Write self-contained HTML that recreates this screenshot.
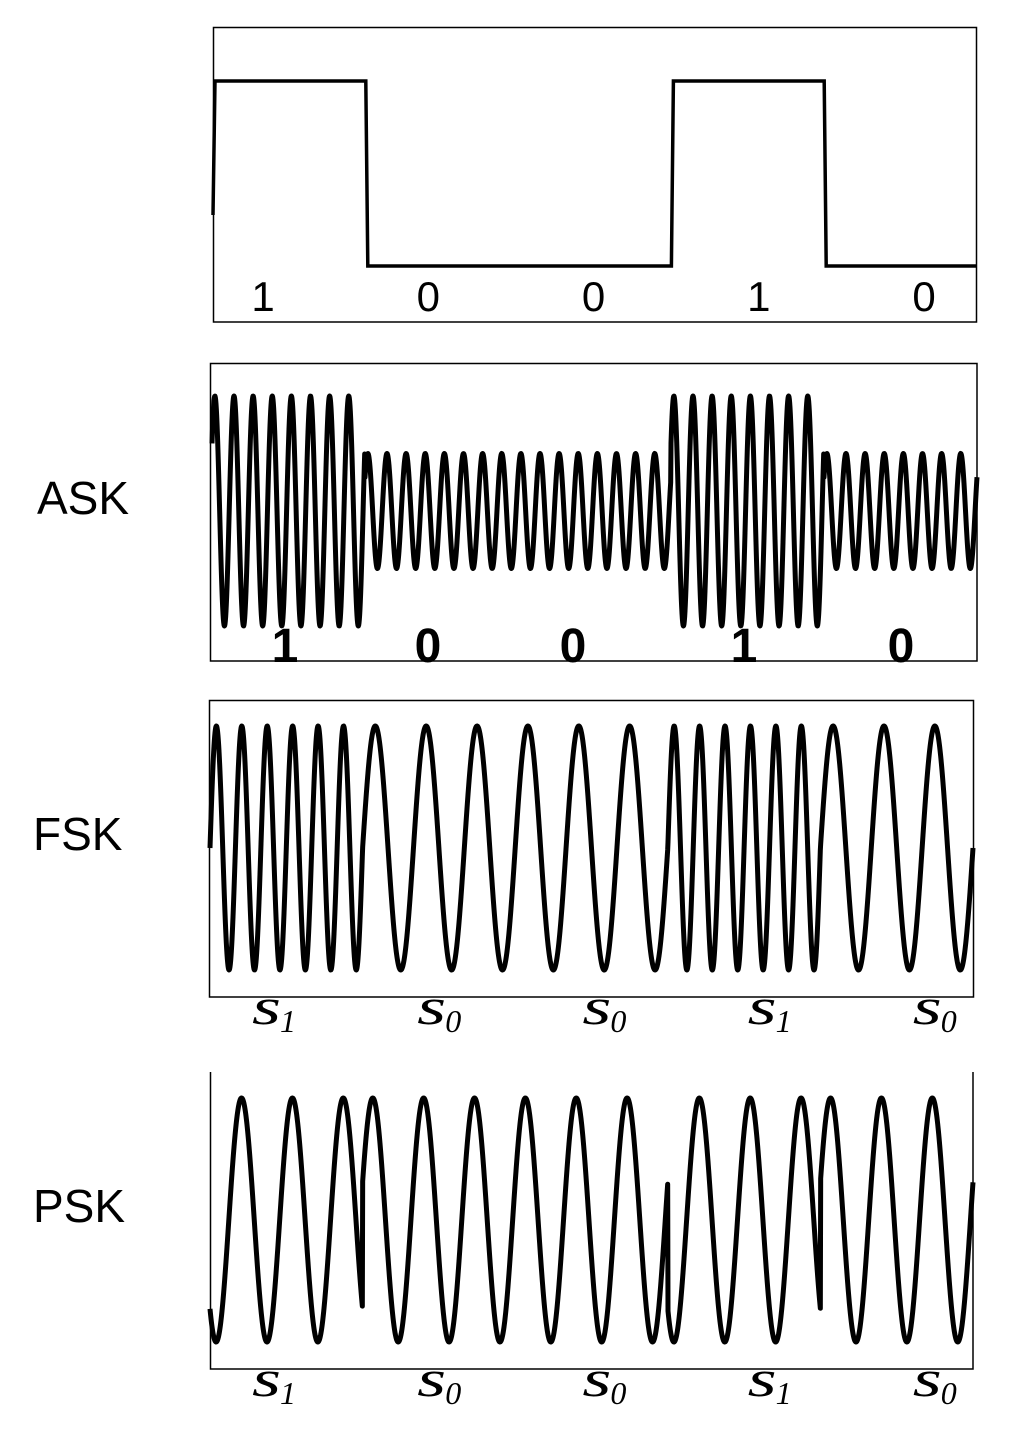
<!DOCTYPE html>
<html><head><meta charset="utf-8"><style>
html,body{margin:0;padding:0;background:#fff;}
svg{display:block;}
.lab{font-family:"Liberation Sans",sans-serif;font-size:46px;fill:#000;}
.bitd{font-family:"Liberation Sans",sans-serif;font-size:42px;fill:#000;}
.bitb{font-family:"Liberation Sans",sans-serif;font-size:48px;font-weight:bold;fill:#000;}
.sym{font-family:"Liberation Serif",serif;font-style:italic;font-size:52px;fill:#000;}
.sub{font-family:"Liberation Serif",serif;font-style:italic;font-size:32px;fill:#000;}
</style></head><body>
<svg id="chart" width="1034" height="1432" viewBox="0 0 1034 1432" xmlns="http://www.w3.org/2000/svg">
<rect x="213.5" y="27.5" width="763" height="294.5" fill="none" stroke="#000" stroke-width="1.5"/>
<rect x="210.5" y="363.5" width="766.5" height="297.5" fill="none" stroke="#000" stroke-width="1.5"/>
<rect x="209.5" y="700.5" width="764" height="296.5" fill="none" stroke="#000" stroke-width="1.5"/>
<path d="M210.5 1072 V1369 H973 V1072" fill="none" stroke="#000" stroke-width="1.5"/>
<text x="37" y="514" class="lab">ASK</text>
<text x="33" y="850" class="lab">FSK</text>
<text x="33" y="1222" class="lab">PSK</text>
<g id="g"></g>
</svg>
<script>
const bits = [1, 0, 0, 1, 0];
const askAmp = [0.5, 1.0];      // amplitude for bit 0, bit 1
const askCycles = 8;            // cycles per bit
const fskCycles = [3, 6];       // cycles per bit for bit 0, bit 1
const pskCycles = 3;
const pskPhase = [0.05, 0.63];  // phase (cycles) for bit 0, bit 1
const askPhase = 0.1;

const NS = 'http://www.w3.org/2000/svg';
const g = document.getElementById('g');
function mk(tag, attrs) { const e = document.createElementNS(NS, tag); for (const k in attrs) e.setAttribute(k, attrs[k]); g.appendChild(e); return e; }

function xs(x0, x1) { return t => x0 + (x1 - x0) * t / bits.length; }
// label placement: labels are spaced evenly across the frame (not bit-centred)
function lx(x0, step) { return i => x0 + step * i; }

// Digital panel
{
  const X = xs(213, 977), yHi = 81, yLo = 266;
  let d = 'M' + X(0) + ' 215';
  bits.forEach((b, i) => {
    const y = b ? yHi : yLo;
    d += ' L' + (X(i) + 2) + ' ' + y + ' L' + X(i + 1) + ' ' + y;
  });
  const p = mk('path', { d: d, fill: 'none', stroke: '#000', 'stroke-width': 3.5 });
  
  
  const L = lx(263, 165.25);
  bits.forEach((b, i) => {
    const t = mk('text', { x: L(i), y: 311, class: 'bitd', 'text-anchor': 'middle' });
    t.textContent = b;
    
    
  });
}

function wave(x0, x1, mid, amp, fn, name) {
  const X = xs(x0, x1);
  let d = '';
  const N = Math.round((x1 - x0) * 3);
  for (let k = 0; k <= N; k++) {
    const t = bits.length * k / N;
    const v = fn(Math.min(t, bits.length - 1e-9));
    d += (k ? ' L' : 'M') + X(t).toFixed(2) + ' ' + (mid - amp * v).toFixed(2);
  }
  const p = mk('path', { d: d, fill: 'none', stroke: '#000', 'stroke-width': 5, 'stroke-linejoin': 'round' });
  
  
}

// ASK
wave(212, 977, 511, 115, t => {
  const b = bits[Math.floor(t)];
  return askAmp[b] * Math.sin(2 * Math.PI * (askCycles * t + askPhase));
}, 'ask-signal');
{
  const xsAsk = [285, 428, 573, 744, 901];
  bits.forEach((b, i) => {
    const t = mk('text', { x: xsAsk[i], y: 662, class: 'bitb', 'text-anchor': 'middle' });
    t.textContent = b;
    
    
  });
}

// FSK (continuous phase)
wave(210, 973, 848, 122, t => {
  let ph = 0; const i = Math.floor(t);
  for (let j = 0; j < i; j++) ph += fskCycles[bits[j]];
  ph += fskCycles[bits[i]] * (t - i);
  return Math.sin(2 * Math.PI * ph);
}, 'fsk-signal');

// PSK
wave(210, 973, 1220, 122, t => {
  const b = bits[Math.floor(t)];
  return Math.sin(2 * Math.PI * (pskCycles * t + pskPhase[b]));
}, 'psk-signal');

function symLabels(y, name) {
  const L = lx(252, 165.2);
  bits.forEach((b, i) => {
    const t = mk('text', { x: L(i), y: y, class: 'sym', textLength: 29, lengthAdjust: 'spacingAndGlyphs' });
    t.textContent = 's';
    
    
    const s = mk('text', { x: L(i) + 28, y: y + 8, class: 'sub' });
    s.textContent = b;
    
    
  });
}
symLabels(1024, 'fsk-symbol-label');
symLabels(1396, 'psk-symbol-label');
</script>
</body></html>
